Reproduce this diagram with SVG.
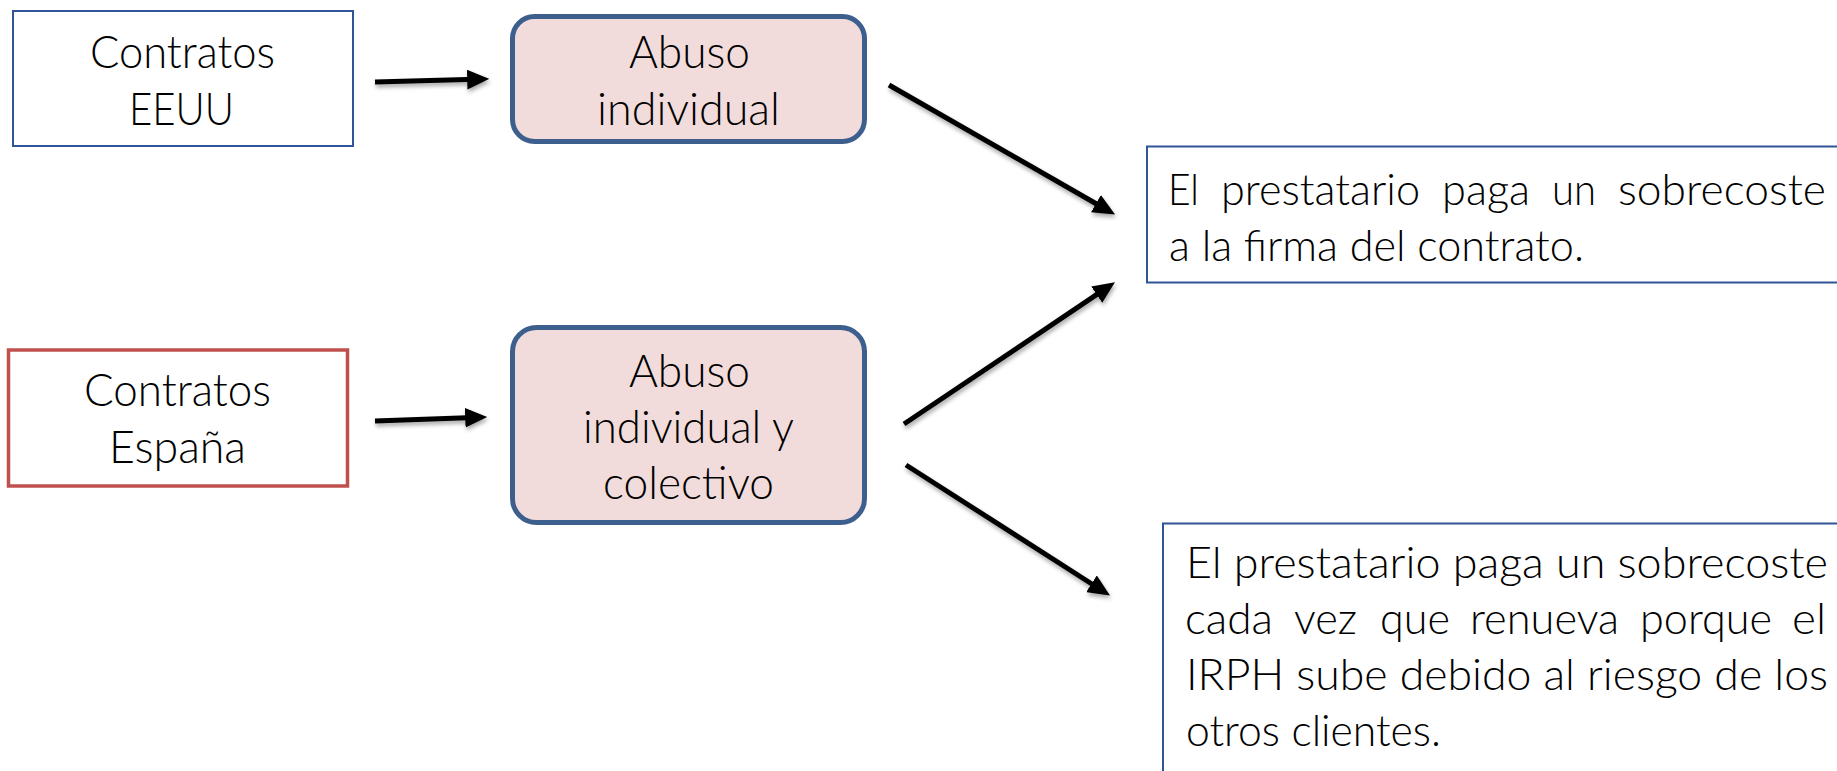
<svg xmlns="http://www.w3.org/2000/svg" width="1837" height="771" viewBox="0 0 1837 771">
<style>
  text { font-family: Lato, "Open Sans", "DejaVu Sans", sans-serif; fill: #000; font-weight: 300; }
  .lbl { font-size: 46px; text-anchor: middle; }
  .body { font-size: 44px; }
  .plain { fill: #fff; stroke: #2F5597; stroke-width: 2; }
  .red { fill: #fff; stroke: #C0504D; stroke-width: 3.5; }
  .pink { fill: #F2DCDB; stroke: #3D5F8E; stroke-width: 5; }
  .conn { stroke: #000; stroke-width: 5; fill: none; marker-end: url(#ah); }
</style>
<defs>
  <marker id="ah" markerUnits="userSpaceOnUse" markerWidth="22" markerHeight="20" refX="8" refY="9" orient="auto" viewBox="0 0 20 18">
    <path d="M0,0 L20,9 L0,18 z" fill="#000"/>
  </marker>
  <filter id="sh" filterUnits="userSpaceOnUse" x="0" y="0" width="1837" height="771">
    <feDropShadow dx="1" dy="3" stdDeviation="2" flood-color="#000" flood-opacity="0.35"/>
  </filter>
</defs>
<rect width="1837" height="771" fill="#fff"/>
<g id="connectors" filter="url(#sh)">
  <line class="conn" x1="375" y1="82" x2="476" y2="79.3"/>
  <line class="conn" x1="375" y1="421" x2="474" y2="417.4"/>
  <line class="conn" x1="889" y1="85" x2="1103.6" y2="208"/>
  <line class="conn" x1="904" y1="424" x2="1104" y2="289.7"/>
  <line class="conn" x1="906" y1="465" x2="1098.9" y2="588.5"/>
</g>
<g id="n1">
  <rect class="plain" x="13" y="11" width="340" height="135"/>
  <text class="lbl" x="182.5" y="68" textLength="185" lengthAdjust="spacingAndGlyphs">Contratos</text>
  <text class="lbl" x="181.5" y="125" textLength="105" lengthAdjust="spacingAndGlyphs">EEUU</text>
</g>
<g id="n2">
  <rect class="pink" x="512.5" y="16.5" width="352" height="125" rx="22"/>
  <text class="lbl" x="689.5" y="68" textLength="121" lengthAdjust="spacingAndGlyphs">Abuso</text>
  <text class="lbl" x="688.5" y="125" textLength="183" lengthAdjust="spacingAndGlyphs">individual</text>
</g>
<g id="n3">
  <rect class="red" x="8.5" y="350" width="339" height="136"/>
  <text class="lbl" x="177.5" y="406" textLength="187" lengthAdjust="spacingAndGlyphs">Contratos</text>
  <text class="lbl" x="177.5" y="463" textLength="137" lengthAdjust="spacingAndGlyphs">España</text>
</g>
<g id="n4">
  <rect class="pink" x="512.5" y="327.5" width="352" height="195" rx="24"/>
  <text class="lbl" x="689.5" y="387" textLength="121" lengthAdjust="spacingAndGlyphs">Abuso</text>
  <text class="lbl" x="688.5" y="443" textLength="211" lengthAdjust="spacingAndGlyphs">individual y</text>
  <text class="lbl" x="688.5" y="499" textLength="171" lengthAdjust="spacingAndGlyphs">colectivo</text>
</g>
<g id="n5">
  <rect class="plain" x="1147" y="146.5" width="700" height="136"/>
  <text class="body" x="1168" y="205" textLength="31" lengthAdjust="spacingAndGlyphs">El</text>
  <text class="body" x="1221" y="205" textLength="199" lengthAdjust="spacingAndGlyphs">prestatario</text>
  <text class="body" x="1442" y="205" textLength="88" lengthAdjust="spacingAndGlyphs">paga</text>
  <text class="body" x="1552" y="205" textLength="44" lengthAdjust="spacingAndGlyphs">un</text>
  <text class="body" x="1618" y="205" textLength="208" lengthAdjust="spacingAndGlyphs">sobrecoste</text>
  <text class="body" x="1169" y="261" textLength="415" lengthAdjust="spacingAndGlyphs">a la firma del contrato.</text>
</g>
<g id="n6">
  <rect class="plain" x="1163" y="523.5" width="700" height="270"/>
  <text class="body" x="1186" y="578" textLength="642" lengthAdjust="spacingAndGlyphs">El prestatario paga un sobrecoste</text>
  <text class="body" x="1185" y="634" textLength="88" lengthAdjust="spacingAndGlyphs">cada</text>
  <text class="body" x="1294" y="634" textLength="63" lengthAdjust="spacingAndGlyphs">vez</text>
  <text class="body" x="1380" y="634" textLength="70" lengthAdjust="spacingAndGlyphs">que</text>
  <text class="body" x="1470" y="634" textLength="149" lengthAdjust="spacingAndGlyphs">renueva</text>
  <text class="body" x="1640" y="634" textLength="132" lengthAdjust="spacingAndGlyphs">porque</text>
  <text class="body" x="1792" y="634" textLength="34" lengthAdjust="spacingAndGlyphs">el</text>
  <text class="body" x="1186" y="690" textLength="642" lengthAdjust="spacingAndGlyphs">IRPH sube debido al riesgo de los</text>
  <text class="body" x="1186" y="746" textLength="255" lengthAdjust="spacingAndGlyphs">otros clientes.</text>
</g>
</svg>
